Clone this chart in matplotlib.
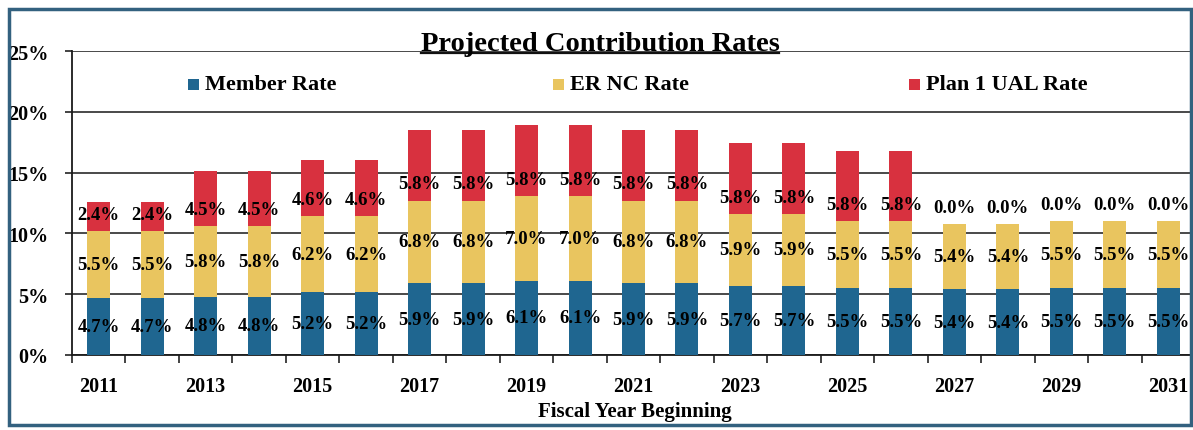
import matplotlib
matplotlib.use("Agg")
import matplotlib.pyplot as plt
from matplotlib.patches import Rectangle
from matplotlib.lines import Line2D

years = list(range(2011, 2032))
member_rate = [4.7, 4.7, 4.8, 4.8, 5.2, 5.2, 5.9, 5.9, 6.1, 6.1, 5.9, 5.9,
               5.7, 5.7, 5.5, 5.5, 5.4, 5.4, 5.5, 5.5, 5.5]
er_nc_rate = [5.5, 5.5, 5.8, 5.8, 6.2, 6.2, 6.8, 6.8, 7.0, 7.0, 6.8, 6.8,
              5.9, 5.9, 5.5, 5.5, 5.4, 5.4, 5.5, 5.5, 5.5]
ual_rate = [2.4, 2.4, 4.5, 4.5, 4.6, 4.6, 5.8, 5.8, 5.8, 5.8, 5.8, 5.8,
            5.8, 5.8, 5.8, 5.8, 0.0, 0.0, 0.0, 0.0, 0.0]
series_names = ["Member Rate", "ER NC Rate", "Plan 1 UAL Rate"]
y_ticks = [0, 5, 10, 15, 20, 25]

BLUE = "#1f6690"
YELLOW = "#e9c55f"
RED = "#d8313f"
SERIF = "Liberation Serif"

W, H = 1193, 431
fig = plt.figure(figsize=(W / 100, H / 100), dpi=100)
fig.patch.set_facecolor("white")

def fx(px):
    return px / W

def fy(py):
    return 1 - py / H

ax = fig.add_axes([fx(72), fy(356), fx(1195) - fx(72), fy(52) - fy(356)])
ax.set_facecolor("white")

x = list(range(len(years)))
bw = 0.43
bottom_er = member_rate
bottom_ual = [m + e for m, e in zip(member_rate, er_nc_rate)]
ax.bar(x, member_rate, bw, color=BLUE, zorder=3)
ax.bar(x, er_nc_rate, bw, bottom=bottom_er, color=YELLOW, zorder=3)
ax.bar(x, ual_rate, bw, bottom=bottom_ual, color=RED, zorder=3)

lab_kw = dict(ha="center", va="center", fontsize=13.5, fontweight="bold",
              family=SERIF, color="black", zorder=5)
for i in x:
    ax.text(i, member_rate[i] / 2, f"{member_rate[i]:.1f}%", **lab_kw)
    ax.text(i, bottom_er[i] + er_nc_rate[i] / 2, f"{er_nc_rate[i]:.1f}%", **lab_kw)
    ax.annotate(f"{ual_rate[i]:.1f}%", xy=(i, bottom_ual[i]),
                xytext=(0, 12), textcoords="offset points", **lab_kw)

ax.set_ylim(0, 25)
ax.set_xlim(-0.5, 20.5)
ax.set_yticks(y_ticks)
ax.set_yticklabels([f"{t}%" for t in y_ticks])
ax.yaxis.grid(True, color="#2a2a2a", linewidth=1.2, zorder=1)
ax.set_axisbelow(True)

ax.set_xticks(x[::2])
ax.set_xticklabels([str(y) for y in years[::2]])
ax.set_xticks([i - 0.5 for i in range(len(years) + 1)], minor=True)
ax.tick_params(axis="x", which="major", length=0, pad=15)
ax.tick_params(axis="x", which="minor", length=6, width=1.2, color="#222222",
               direction="out")
ax.tick_params(axis="y", length=5, width=1.2, color="#222222", pad=12)
for lbl in ax.get_xticklabels() + ax.get_yticklabels():
    lbl.set_family(SERIF)
    lbl.set_fontweight("bold")
    lbl.set_fontsize(14.5)

for side in ("top", "right"):
    ax.spines[side].set_visible(False)
for side in ("left", "bottom"):
    ax.spines[side].set_color("#1a1a1a")
    ax.spines[side].set_linewidth(1.3)

fig.text(fx(635), fy(412), "Fiscal Year Beginning", ha="center", va="center",
         family=SERIF, fontweight="bold", fontsize=15)

# Title with underline
title = fig.text(fx(600), fy(51), "Projected Contribution Rates", ha="center",
                 va="baseline", family=SERIF, fontweight="bold", fontsize=20.5)
fig.canvas.draw()
bb = title.get_window_extent()
fig.add_artist(Line2D([bb.x0 / W, bb.x1 / W], [fy(54), fy(54)],
                      transform=fig.transFigure, color="#111111", linewidth=1.6))

# Legend entries
legend_items = [(188, BLUE), (553, YELLOW), (909, RED)]
for (px, col), name in zip(legend_items, series_names):
    fig.add_artist(Rectangle((fx(px), fy(91)), fx(11), 11 / H,
                             transform=fig.transFigure, facecolor=col,
                             edgecolor="none"))
    fig.text(fx(px + 17), fy(85), name, ha="left", va="center", family=SERIF,
             fontweight="bold", fontsize=16)

# Outer frame
fig.add_artist(Rectangle((fx(9), fy(426)), fx(1191) - fx(9), fy(10) - fy(426),
                         transform=fig.transFigure, facecolor="none",
                         edgecolor="#33617f", linewidth=2.5))

fig.savefig("out.png", dpi=100, facecolor="white")
